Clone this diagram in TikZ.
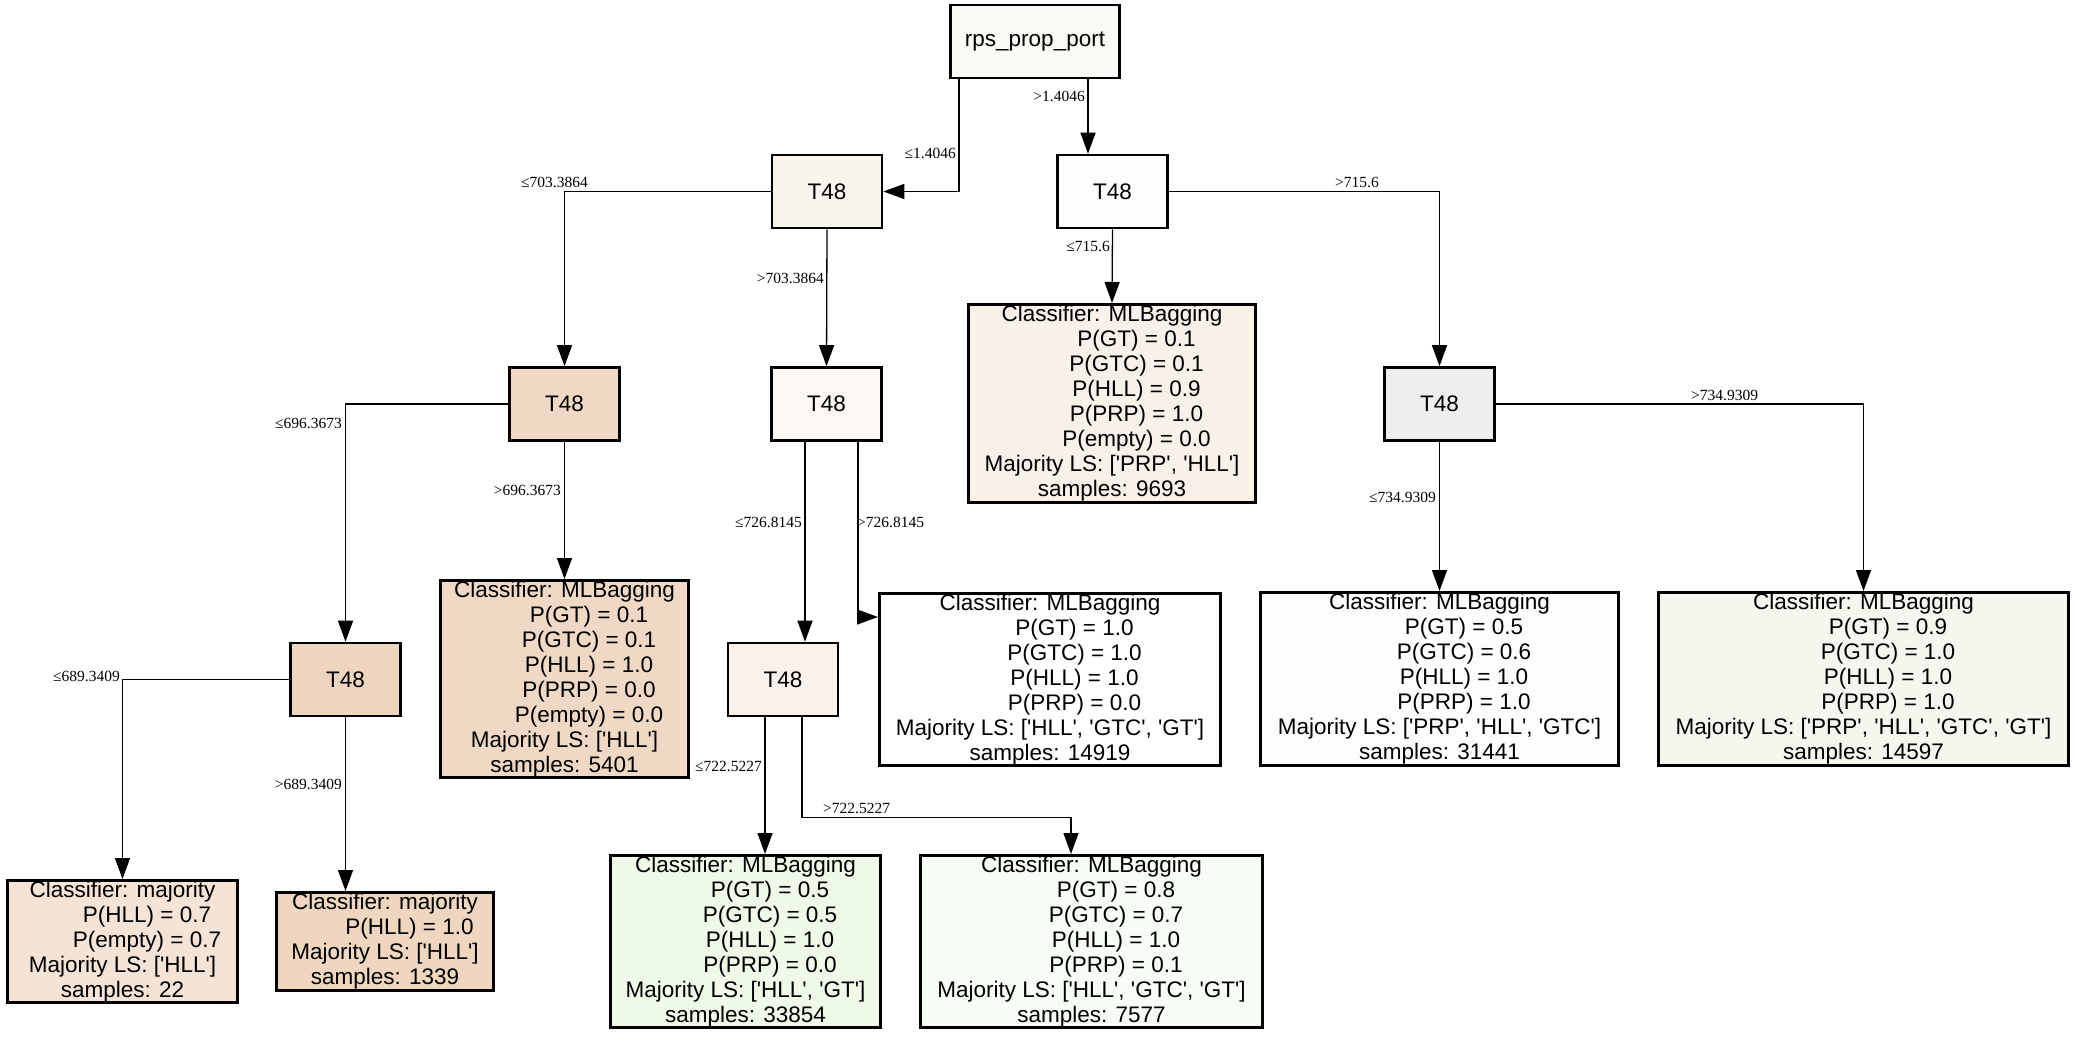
\documentclass[tikz,border=0pt]{standalone}
\usepackage{fontspec}
\setmainfont{Liberation Sans}
\newfontfamily\lblfont{Liberation Serif}
\usetikzlibrary{arrows.meta}

% fills of the tree nodes
\definecolor{cRoot}{HTML}{FBFAF6}
\definecolor{cOneL}{HTML}{F9F4EE}
\definecolor{cOneR}{HTML}{FEFCFD}
\definecolor{cTwoA}{HTML}{EFD9C5}
\definecolor{cTwoB}{HTML}{FBF7F2}
\definecolor{cTwoC}{HTML}{EEEDEF}
\definecolor{cThrA}{HTML}{EED5BD}
\definecolor{cThrB}{HTML}{F9F1EC}
\definecolor{cLfA}{HTML}{F8F1EA}   % samples 9693
\definecolor{cLfB}{HTML}{EFD9C5}   % samples 5401
\definecolor{cLfC}{HTML}{FFFFFF}   % samples 14919
\definecolor{cLfD}{HTML}{FDFDFD}   % samples 31441
\definecolor{cLfE}{HTML}{F3F7EE}   % samples 14597
\definecolor{cLfF}{HTML}{F5E3D6}   % samples 22
\definecolor{cLfG}{HTML}{EFD6BF}   % samples 1339
\definecolor{cLfH}{HTML}{EEF9E8}   % samples 33854
\definecolor{cLfI}{HTML}{F7FCF5}   % samples 7577

% indent of the probability lines
\newcommand{\pind}{\hspace*{49pt}}
% straight quoted class name
\newcommand{\q}[1]{\textquotesingle#1\textquotesingle}

\begin{document}
\begin{tikzpicture}[x=1pt,y=-1pt,
  box/.style={draw=black, line width=2.6pt, inner sep=0pt, align=center,
              font=\fontsize{22.5}{25}\selectfont},
  split/.style={box, minimum width=110pt, minimum height=73pt},
  edge/.style={line width=1.3pt, -{Triangle[length=21pt,width=15pt]}},
  lbl/.style={font=\lblfont\fontsize{15.5}{17}\selectfont, inner sep=0pt},
]
\fill[white] (0,0) rectangle (2075,1041);
\useasboundingbox (0,0) rectangle (2075,1041);

% split nodes
\node[split, fill=cRoot, minimum width=169.4pt] (root) at (1035,41.5) {rps\_prop\_port};
\node[split, fill=cOneL] (t1L) at (827,191.5) {T48};
\node[split, fill=cOneR] (t1R) at (1112.5,191.5) {T48};
\node[split, fill=cTwoA] (t2a) at (564.5,404) {T48};
\node[split, fill=cTwoB] (t2b) at (826.5,404) {T48};
\node[split, fill=cTwoC] (t2c) at (1439.5,404) {T48};
\node[split, fill=cThrA] (t3a) at (345.5,679.5) {T48};
\node[split, fill=cThrB] (t3b) at (783,679.5) {T48};

% leaves
\node[box, fill=cLfA, minimum width=287.4pt, minimum height=198.4pt] (lf9693) at (1112,403.5)
  {Classifier: MLBagging\\\pind P(GT) = 0.1\\\pind P(GTC) = 0.1\\\pind P(HLL) = 0.9\\\pind P(PRP) = 1.0\\\pind P(empty) = 0.0\\Majority LS: [\q{PRP}, \q{HLL}]\\samples: 9693};
\node[box, fill=cLfB, minimum width=248.4pt, minimum height=197.4pt] (lf5401) at (564.5,679)
  {Classifier: MLBagging\\\pind P(GT) = 0.1\\\pind P(GTC) = 0.1\\\pind P(HLL) = 1.0\\\pind P(PRP) = 0.0\\\pind P(empty) = 0.0\\Majority LS: [\q{HLL}]\\samples: 5401};
\node[box, fill=cLfC, minimum width=341.4pt, minimum height=172.4pt] (lf14919) at (1050,679.5)
  {Classifier: MLBagging\\\pind P(GT) = 1.0\\\pind P(GTC) = 1.0\\\pind P(HLL) = 1.0\\\pind P(PRP) = 0.0\\Majority LS: [\q{HLL}, \q{GTC}, \q{GT}]\\samples: 14919};
\node[box, fill=cLfD, minimum width=358.4pt, minimum height=173.4pt] (lf31441) at (1439.5,679)
  {Classifier: MLBagging\\\pind P(GT) = 0.5\\\pind P(GTC) = 0.6\\\pind P(HLL) = 1.0\\\pind P(PRP) = 1.0\\Majority LS: [\q{PRP}, \q{HLL}, \q{GTC}]\\samples: 31441};
\node[box, fill=cLfE, minimum width=410.4pt, minimum height=173.4pt] (lf14597) at (1863.5,679)
  {Classifier: MLBagging\\\pind P(GT) = 0.9\\\pind P(GTC) = 1.0\\\pind P(HLL) = 1.0\\\pind P(PRP) = 1.0\\Majority LS: [\q{PRP}, \q{HLL}, \q{GTC}, \q{GT}]\\samples: 14597};
\node[box, fill=cLfF, minimum width=230.4pt, minimum height=122.4pt] (lf22) at (122.5,941.5)
  {Classifier: majority\\\pind P(HLL) = 0.7\\\pind P(empty) = 0.7\\Majority LS: [\q{HLL}]\\samples: 22};
\node[box, fill=cLfG, minimum width=217.4pt, minimum height=98.4pt] (lf1339) at (385,941.5)
  {Classifier: majority\\\pind P(HLL) = 1.0\\Majority LS: [\q{HLL}]\\samples: 1339};
\node[box, fill=cLfH, minimum width=270.4pt, minimum height=172.4pt] (lf33854) at (745.5,941.5)
  {Classifier: MLBagging\\\pind P(GT) = 0.5\\\pind P(GTC) = 0.5\\\pind P(HLL) = 1.0\\\pind P(PRP) = 0.0\\Majority LS: [\q{HLL}, \q{GT}]\\samples: 33854};
\node[box, fill=cLfI, minimum width=342.4pt, minimum height=172.4pt] (lf7577) at (1091.5,941.5)
  {Classifier: MLBagging\\\pind P(GT) = 0.8\\\pind P(GTC) = 0.7\\\pind P(HLL) = 1.0\\\pind P(PRP) = 0.1\\Majority LS: [\q{HLL}, \q{GTC}, \q{GT}]\\samples: 7577};

% connector end points off the node centres
\coordinate (e1s) at ([xshift=-76pt]root.south);
\coordinate (e2s) at ([xshift=53pt]root.south);
\coordinate (e9s) at ([xshift=-21.5pt]t2b.south);
\coordinate (e10s) at ([xshift=31.5pt]t2b.south);
\coordinate (e15s) at ([xshift=-18pt]t3b.south);
\coordinate (e16s) at ([xshift=19pt]t3b.south);
\coordinate (e16t) at ([xshift=-20.5pt]lf7577.north);

% connectors
\draw[edge] (e1s) |- (t1L);
\draw[edge] (e2s) -- (e2s |- t1R.north);
\draw[edge] (t1L) -| (t2a);
\draw[edge] (t1L.south) -- (t2b.north);
\draw[edge] (t1R.south) -- (lf9693.north);
\draw[edge] (t1R) -| (t2c);
\draw[edge] (t2a) -| (t3a);
\draw[edge] (t2a.south) -- (lf5401.north);
\draw[edge] (e9s) -- (e9s |- t3b.north);
\draw[edge] (e10s) |- ([yshift=62.5pt]lf14919.west);
\draw[edge] (t2c.south) -- (lf31441.north);
\draw[edge] (t2c) -| (lf14597);
\draw[edge] (t3a) -| (lf22);
\draw[edge] (t3a.south) -- (t3a.south |- lf1339.north);
\draw[edge] (e15s) -- (e15s |- lf33854.north);
\draw[edge] (e16s) -- ++(0,100) -| (e16t);

% split conditions
\node[lbl, anchor=base east] (l1) at (956,158) {≤1.4046};
\node[lbl, anchor=base east] (l2) at (1085,102) {>1.4046};
\node[lbl, anchor=base east] (l3) at (588,187) {≤703.3864};
\node[lbl, anchor=base east] (l4) at (824,283) {>703.3864};
\node[lbl, anchor=base east] (l5) at (1110,251) {≤715.6};
\node[lbl, anchor=base west] (l6) at (1335,187) {>715.6};
\node[lbl, anchor=base east] (l7) at (342,428) {≤696.3673};
\node[lbl, anchor=base east] (l8) at (561,495) {>696.3673};
\node[lbl, anchor=base east] (l9) at (802,527) {≤726.8145};
\node[lbl, anchor=base west] (l10) at (857,527) {>726.8145};
\node[lbl, anchor=base west] (l11) at (1691,400) {>734.9309};
\node[lbl, anchor=base east] (l12) at (1436,502) {≤734.9309};
\node[lbl, anchor=base east] (l13) at (120,681) {≤689.3409};
\node[lbl, anchor=base east] (l14) at (342,789) {>689.3409};
\node[lbl, anchor=base east] (l15) at (762,771) {≤722.5227};
\node[lbl, anchor=base west] (l16) at (823,813) {>722.5227};
\end{tikzpicture}
\end{document}
